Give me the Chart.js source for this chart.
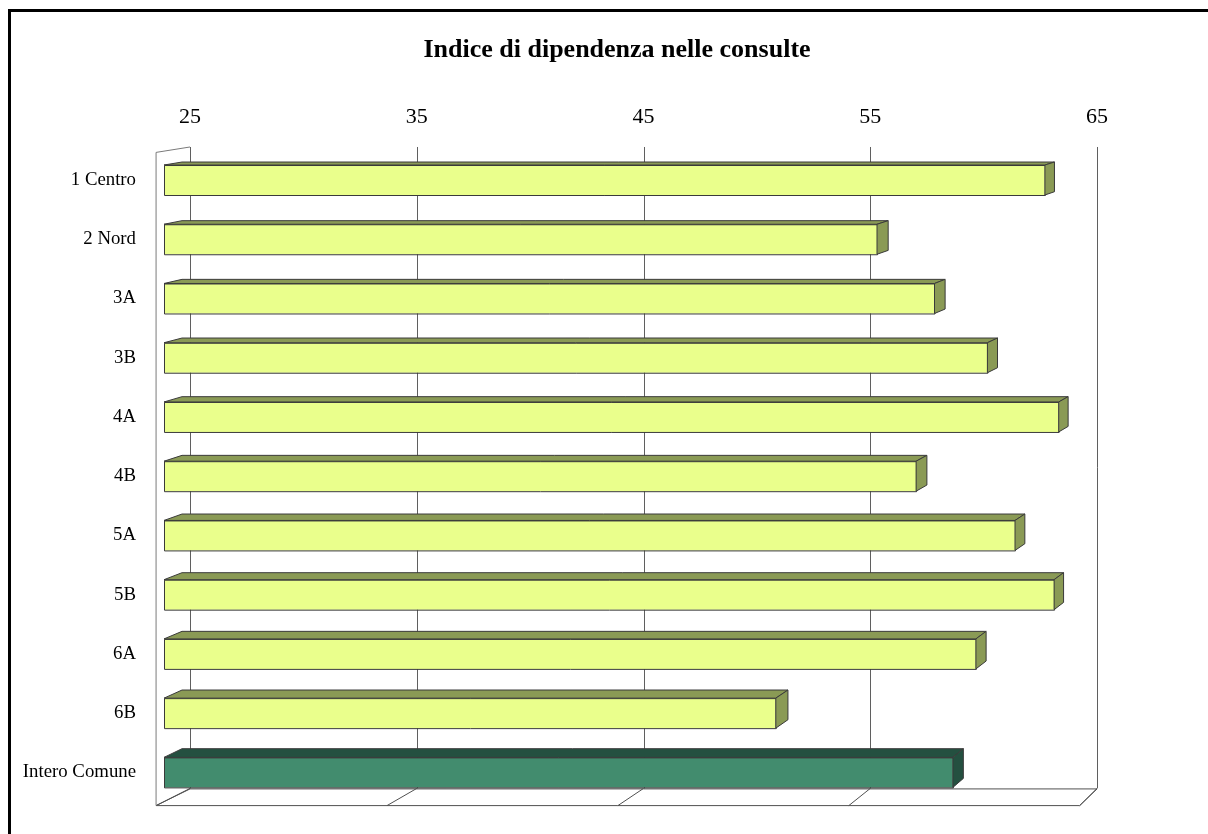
<!DOCTYPE html>
<html>
<head>
<meta charset="utf-8">
<script src="https://cdn.jsdelivr.net/npm/chart.js@4.4.1/dist/chart.umd.min.js"></script>
<style>
  html, body { margin: 0; padding: 0; background: #ffffff; }
  #wrap { position: relative; width: 1208px; height: 834px; overflow: hidden; }
  #frame { position: absolute; left: 8px; top: 9px; width: 1300px; height: 900px;
           border-left: 3px solid #000; border-top: 3px solid #000; pointer-events: none; }
</style>
</head>
<body>
<div id="wrap">
  <canvas id="c" width="1208" height="834"></canvas>
  <div id="frame"></div>
</div>
<script>
// ---- data ----
const chartTitle = 'Indice di dipendenza nelle consulte';
const categories = ['1 Centro', '2 Nord', '3A', '3B', '4A', '4B', '5A', '5B', '6A', '6B', 'Intero Comune'];
const values = [63.3, 56.0, 58.5, 60.8, 63.9, 57.7, 62.0, 63.7, 60.3, 51.6, 59.3];
const tickValues = [25, 35, 45, 55, 65];
const axisMin = 25;
const axisMax = 65;

// ---- styles ----
const frontColors = categories.map((c, i) => i === categories.length - 1 ? '#428C6E' : '#EAFF8C');
const shadeColors = categories.map((c, i) => i === categories.length - 1 ? '#245040' : '#8A9A55');
const serif = '"Liberation Serif", "Times New Roman", serif';

// perspective helpers
const VP = { x: 2041, y: -148 };
const kBar = 0.0096;   // bar depth
const kBox = 0.018;    // box depth
function toBack(x, y, k) { return { x: x + k * (VP.x - x), y: y + k * (VP.y - y) }; }
function toFront(x, y, k) { return { x: (x - k * VP.x) / (1 - k), y: (y - k * VP.y) / (1 - k) }; }

const box3d = {
  id: 'box3d',
  beforeDatasetsDraw(chart) {
    const ctx = chart.ctx;
    const ca = chart.chartArea;
    const sb = chart.scales.xBack;
    const frontTop = ca.top + 2;
    const frontBottom = ca.bottom + 3.6;
    const backTop = toBack(0, frontTop, kBox).y;
    const backBottom = toBack(0, frontBottom, kBox).y;
    ctx.save();
    ctx.lineWidth = 1;
    // gridlines on back wall
    ctx.strokeStyle = '#5f5f5f';
    tickValues.forEach(v => {
      const x = Math.round(sb.getPixelForValue(v)) + 0.5;
      ctx.beginPath();
      ctx.moveTo(x, backTop);
      ctx.lineTo(x, backBottom);
      ctx.stroke();
    });
    // floor
    ctx.strokeStyle = '#505050';
    const xb0 = sb.getPixelForValue(tickValues[0]);
    const xb1 = sb.getPixelForValue(tickValues[tickValues.length - 1]);
    const f0 = toFront(xb0, backBottom, kBox);
    const f1 = toFront(xb1, backBottom, kBox);
    ctx.beginPath();
    ctx.moveTo(xb0, backBottom + 0.5);
    ctx.lineTo(xb1, backBottom + 0.5);
    ctx.lineTo(f1.x, f1.y);
    ctx.lineTo(f0.x, f0.y);
    ctx.closePath();
    ctx.stroke();
    tickValues.forEach(v => {
      const xb = sb.getPixelForValue(v);
      const f = toFront(xb, backBottom, kBox);
      ctx.beginPath();
      ctx.moveTo(xb, backBottom);
      ctx.lineTo(f.x, f.y);
      ctx.stroke();
    });
    // left wall
    ctx.strokeStyle = '#7a7a7a';
    const ft = toFront(xb0, backTop, kBox);
    ctx.beginPath();
    ctx.moveTo(xb0, backTop);
    ctx.lineTo(ft.x, ft.y);
    ctx.lineTo(f0.x, f0.y);
    ctx.stroke();
    ctx.restore();
  },
  afterDatasetsDraw(chart) {
    const ctx = chart.ctx;
    const meta = chart.getDatasetMeta(0);
    const sx = chart.scales.x;
    const basePx = sx.getPixelForValue(axisMin);
    ctx.save();
    ctx.lineWidth = 1;
    ctx.strokeStyle = '#3a3a3a';
    ctx.lineJoin = 'round';
    meta.data.forEach((bar, i) => {
      const p = bar.getProps(['x', 'y', 'height'], true);
      const l = basePx, r = p.x;
      const t = p.y - p.height / 2, b = p.y + p.height / 2;
      const lt = toBack(l, t, kBar), rt = toBack(r, t, kBar), rb = toBack(r, b, kBar);
      // front outline
      ctx.strokeRect(l + 0.5, t + 0.5, r - l, b - t);
      ctx.fillStyle = shadeColors[i];
      // top face
      ctx.beginPath();
      ctx.moveTo(l, t); ctx.lineTo(r, t); ctx.lineTo(rt.x, rt.y); ctx.lineTo(lt.x, lt.y); ctx.closePath();
      ctx.fill(); ctx.stroke();
      // side face
      ctx.beginPath();
      ctx.moveTo(r, t); ctx.lineTo(r, b); ctx.lineTo(rb.x, rb.y); ctx.lineTo(rt.x, rt.y); ctx.closePath();
      ctx.fill(); ctx.stroke();
    });
    ctx.restore();
  },
  afterDraw(chart) {
    const ctx = chart.ctx;
    ctx.save();
    ctx.fillStyle = '#000';
    ctx.font = 'bold 26px ' + serif;
    ctx.textAlign = 'center';
    ctx.textBaseline = 'middle';
    ctx.fillText(chartTitle, 617, 50);
    ctx.restore();
  }
};

// front plane: 25 -> 164, 23.0 px/unit; back plane: 25 -> 190, 65 -> 1097
const caLeft = 164, caRight = 1097, caTop = 150.4, caBottom = 802;
const frontPxPerUnit = 23.0;
const frontMax = axisMin + (caRight - caLeft) / frontPxPerUnit;
const backMin = axisMin - (190 - caLeft) * (axisMax - axisMin) / (1097 - 190);

new Chart(document.getElementById('c'), {
  type: 'bar',
  data: {
    labels: categories,
    datasets: [{
      data: values,
      backgroundColor: frontColors,
      borderWidth: 0,
      categoryPercentage: 1,
      barPercentage: 30 / 59.25,
      xAxisID: 'x',
      yAxisID: 'y'
    }]
  },
  options: {
    indexAxis: 'y',
    responsive: false,
    animation: false,
    layout: { padding: { left: 0, right: 1208 - caRight, top: 63.4, bottom: 834 - caBottom } },
    plugins: {
      legend: { display: false },
      tooltip: { enabled: false },
      title: { display: false }
    },
    scales: {
      x: {
        type: 'linear', display: false, min: axisMin, max: frontMax
      },
      xBack: {
        type: 'linear', axis: 'x', position: 'top', min: backMin, max: axisMax,
        grid: { display: false, drawTicks: false },
        border: { display: false },
        afterBuildTicks: s => { s.ticks = tickValues.map(v => ({ value: v })); },
        afterFit: s => { s.height = caTop - 63.4; s.paddingLeft = 0; s.paddingRight = 0; },
        ticks: { color: '#000', font: { family: serif, size: 22 }, padding: 20, maxRotation: 0, autoSkip: false,
                 callback: v => String(v) }
      },
      y: {
        type: 'category', position: 'left',
        grid: { display: false, drawTicks: false },
        border: { display: false },
        afterFit: s => { s.width = caLeft; s.paddingTop = 0; s.paddingBottom = 0; },
        ticks: { color: '#000', font: { family: serif, size: 18.8 }, padding: 28, autoSkip: false }
      }
    }
  },
  plugins: [box3d]
});
</script>
</body>
</html>
